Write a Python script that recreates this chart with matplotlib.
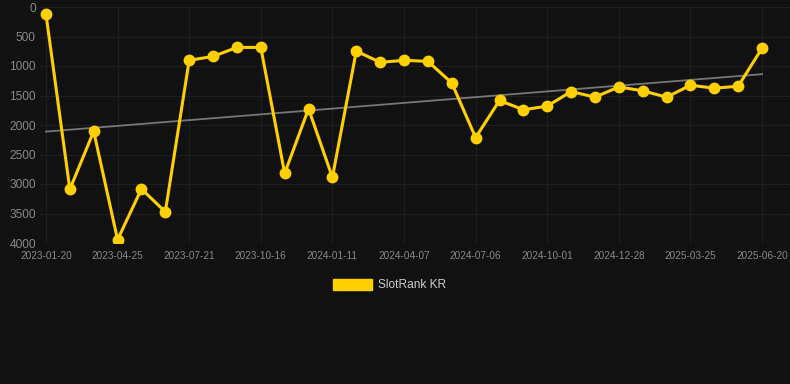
import matplotlib
matplotlib.use("Agg")
import matplotlib.pyplot as plt
import numpy

plt.rcParams['font.family'] = ['Liberation Sans', 'DejaVu Sans']

# ranking values, one per month (lower is better, axis reversed)
ranks = [120, 3090, 2107, 3944, 3084, 3472, 904, 837, 685, 685,
         2820, 1725, 2888, 747, 938, 904, 921, 1287, 2213, 1584,
         1742, 1680, 1433, 1528, 1354, 1421, 1528, 1326, 1376, 1343, 697]
tickLabels = ['2023-01-20', '2023-04-25', '2023-07-21', '2023-10-16', '2024-01-11',
              '2024-04-07', '2024-07-06', '2024-10-01', '2024-12-28', '2025-03-25',
              '2025-06-20']
yTicks = [0, 500, 1000, 1500, 2000, 2500, 3000, 3500, 4000]

BG = '#111111'
GOLD = '#FFD000'

x = numpy.arange(len(ranks))
slope, intercept = numpy.polyfit(x, ranks, 1)

fig = plt.figure(figsize=(7.9, 3.84), dpi=100, facecolor=BG)
ax = fig.add_axes([40 / 790, 1 - 243 / 384, 750 / 790, 236 / 384])
ax.set_facecolor(BG)

ax.plot(x, slope * x + intercept, color='#777777', linewidth=1.3, zorder=2)
line, = ax.plot(x, ranks, color=GOLD, linewidth=2.2, marker='o', markersize=7.5,
                zorder=3, label='SlotRank KR')

ax.set_xlim(-0.25, 31.17)
ax.set_ylim(4000, 0)
ax.set_yticks(yTicks)
ax.set_xticks(x[::3])
ax.set_xticklabels(tickLabels)

ax.grid(True, color='#1e1e1e', linewidth=0.8)
ax.axhline(4000, color='#2a2a2a', linewidth=0.8, zorder=1)
ax.set_axisbelow(True)
for s in ax.spines.values():
    s.set_visible(False)
ax.tick_params(axis='y', colors='#888888', labelsize=8.6, length=0, pad=3)
ax.tick_params(axis='x', colors='#888888', labelsize=7.2, length=0, pad=6)

# legend drawn as a box + label under the chart
fig.patches.append(matplotlib.patches.Rectangle((333 / 790, 1 - 290 / 384), 39 / 790, 11 / 384,
                                                transform=fig.transFigure, color=GOLD))
fig.text(378 / 790, 1 - 285 / 384, 'SlotRank KR', color='#cccccc', fontsize=8.6,
         va='center', ha='left')

fig.savefig('out.png', dpi=100, facecolor=BG)
